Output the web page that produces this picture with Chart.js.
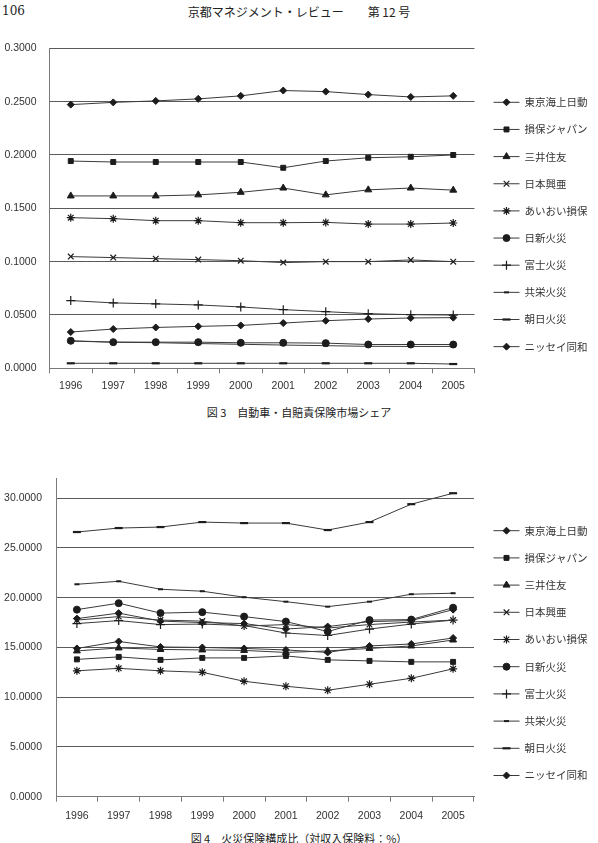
<!DOCTYPE html>
<html><head><meta charset="utf-8">
<script src="https://cdn.jsdelivr.net/npm/chart.js@4/dist/chart.umd.min.js"></script>
<style>
html,body{margin:0;padding:0;background:#fff}
body{width:598px;height:843px;position:relative;overflow:hidden;font-family:"Noto Sans CJK JP",sans-serif;color:#222}
.abs{position:absolute;white-space:pre}
#pgno{left:2px;top:4px;font-size:12px;font-family:"DejaVu Serif",serif}
#running{left:0;width:598px;text-align:center;top:3px;font-size:12px}
.cap{left:0;width:598px;text-align:center;font-size:11px}
#cap3{top:404px}
#cap4{top:830px}
.wrap{position:absolute;left:0;width:598px;height:360px}
#w1{top:40px}
#w2{top:470px}
</style>
</head><body>
<div id="pgno" class="abs">106</div>
<div id="running" class="abs">京都マネジメント・レビュー　　第 12 号</div>
<div class="wrap" id="w1"><canvas id="c1" width="598" height="360"></canvas></div>
<div id="cap3" class="abs cap">図 3　自動車・自賠責保険市場シェア</div>
<div class="wrap" id="w2"><canvas id="c2" width="598" height="360"></canvas></div>
<div id="cap4" class="abs cap">図 4　火災保険構成比（対収入保険料：%）</div>
<script>
// ---- categories / labels ----
const years = ['1996','1997','1998','1999','2000','2001','2002','2003','2004','2005'];
const companies = ['東京海上日動','損保ジャパン','三井住友','日本興亜','あいおい損保','日新火災','富士火災','共栄火災','朝日火災','ニッセイ同和'];
const yTicks3 = [0, 0.05, 0.10, 0.15, 0.20, 0.25, 0.30];
const yTicks4 = [0, 5, 10, 15, 20, 25, 30];

// ---- Figure 3: auto / compulsory auto market share ----
const auto_tokio    = [0.2472,0.2493,0.2507,0.2526,0.2554,0.2604,0.2594,0.2566,0.2544,0.2554];
const auto_sompo    = [0.1943,0.1934,0.1934,0.1934,0.1934,0.1880,0.1943,0.1974,0.1983,0.2000];
const auto_mitsui   = [0.1616,0.1616,0.1616,0.1626,0.1650,0.1690,0.1626,0.1673,0.1690,0.1670];
const auto_nipponkoa= [0.1047,0.1038,0.1028,0.1019,0.1009,0.0991,0.1000,0.1000,0.1016,0.1000];
const auto_aioi     = [0.1412,0.1403,0.1384,0.1384,0.1365,0.1365,0.1368,0.1352,0.1352,0.1362];
const auto_nisshin  = [0.0258,0.0245,0.0245,0.0245,0.0239,0.0239,0.0236,0.0223,0.0223,0.0223];
const auto_fuji     = [0.0635,0.0613,0.0604,0.0594,0.0575,0.0550,0.0531,0.0512,0.0503,0.0499];
const auto_kyoei    = [0.0255,0.0245,0.0240,0.0232,0.0225,0.0218,0.0212,0.0206,0.0205,0.0205];
const auto_asahi    = [0.0047,0.0047,0.0047,0.0047,0.0047,0.0047,0.0047,0.0047,0.0047,0.0040];
const auto_nissay   = [0.0340,0.0368,0.0383,0.0393,0.0402,0.0424,0.0446,0.0462,0.0472,0.0475];

// ---- Figure 4: fire insurance share of premium income (%) ----
const fire_tokio    = [14.90,15.60,15.05,15.00,14.90,14.75,14.50,15.15,15.35,15.95];
const fire_sompo    = [13.80,14.05,13.75,13.95,13.95,14.15,13.75,13.65,13.55,13.55];
const fire_mitsui   = [14.65,14.95,14.80,14.75,14.70,14.50,14.65,14.90,15.15,15.75];
const fire_nipponkoa= [17.75,18.10,17.75,17.65,17.15,17.30,16.95,17.30,17.55,17.75];
const fire_aioi     = [12.65,12.90,12.65,12.50,11.60,11.10,10.70,11.30,11.90,12.85];
const fire_nisshin  = [18.80,19.45,18.45,18.55,18.10,17.60,16.60,17.75,17.80,19.00];
const fire_fuji     = [17.40,17.70,17.30,17.35,17.20,16.45,16.20,16.85,17.35,17.75];
const fire_kyoei    = [21.35,21.65,20.85,20.65,20.05,19.60,19.10,19.60,20.35,20.45];
const fire_asahi    = [26.60,27.00,27.10,27.60,27.50,27.50,26.80,27.60,29.40,30.50];
const fire_nissay   = [17.90,18.45,17.65,17.50,17.40,16.85,17.10,17.60,17.70,18.80];

// marker styles per company (same order as companies)
const markerStyle  = ['rectRot','rect','triangle','crossRot','star','circle','cross','line','line','rectRot'];
const markerRadius = [3.5,3.5,4,4,4,3.5,4.5,2.5,4,3.5];
const markerWidth  = [1,1,1,1.2,1.2,1,1.2,2,2.2,1];

const AXIS_FONT = {family:'"Liberation Sans", Arial, sans-serif', size:10.5};
const TEXT_COLOR = '#333';

function makeDatasets(series){
  return series.map((vals,i)=>({
    label: companies[i],
    data: vals,
    borderColor:'#3a3a3a',
    borderWidth:1,
    pointStyle: markerStyle[i],
    pointRadius: markerRadius[i],
    pointHoverRadius: markerRadius[i],
    pointBorderWidth: markerWidth[i],
    pointBackgroundColor:'#1c1c1c',
    pointBorderColor:'#1c1c1c',
    tension:0,
    fill:false,
    clip:false
  }));
}

const sideLegend = {
  id:'sideLegend',
  afterDraw(chart, args, opts){
    const ctx = chart.ctx;
    ctx.save();
    chart.data.datasets.forEach((ds,i)=>{
      const y = opts.top + i*opts.step;
      ctx.strokeStyle = '#3a3a3a'; ctx.lineWidth = 1;
      ctx.beginPath(); ctx.moveTo(opts.x, y); ctx.lineTo(opts.x+opts.len, y); ctx.stroke();
      ctx.fillStyle = ds.pointBackgroundColor;
      ctx.strokeStyle = ds.pointBorderColor;
      ctx.lineWidth = ds.pointBorderWidth;
      Chart.helpers.drawPoint(ctx, {pointStyle: ds.pointStyle, radius: ds.pointRadius, borderWidth: ds.pointBorderWidth, rotation:0}, opts.x+opts.len/2, y);
      ctx.fillStyle = TEXT_COLOR;
      ctx.font = '10.5px "Noto Sans CJK JP", sans-serif';
      ctx.textBaseline = 'middle';
      ctx.textAlign = 'left';
      ctx.fillText(ds.label, opts.textX, y);
    });
    ctx.restore();
  }
};

function makeChart(id, series, cfg){
  return new Chart(document.getElementById(id), {
    type:'line',
    data:{labels: years, datasets: makeDatasets(series)},
    options:{
      responsive:false,
      animation:false,
      events:[],
      layout:{padding:{top:cfg.padTop, right:cfg.padRight, left:0, bottom:0}},
      plugins:{legend:{display:false}, tooltip:{enabled:false},
        sideLegend:{x:493.5, len:26, textX:524.5, top:cfg.legTop, step:cfg.legStep}},
      scales:{
        x:{
          type:'category', offset:true,
          grid:{offset:true, drawOnChartArea:false, drawTicks:true, tickLength:5, color:'#7a7a7a'},
          border:{color:'#7a7a7a', width:1},
          ticks:{font:AXIS_FONT, color:TEXT_COLOR, padding:cfg.xPad, maxRotation:0, autoSkip:false},
          afterFit(s){ s.height = cfg.xHeight; s.paddingLeft = 0; s.paddingRight = 0; }
        },
        y:{
          min:cfg.yTicks[0], max:cfg.yMax,
          ticks:{stepSize:cfg.yTicks[1]-cfg.yTicks[0], callback:v=>Number(v).toFixed(4), font:AXIS_FONT, color:TEXT_COLOR, padding:cfg.yPad},
          afterBuildTicks(s){ s.ticks = cfg.yTicks.map(v=>({value:v})); },
          grid:{color:'#5a5a5a', drawTicks:false, lineWidth:1},
          border:{color:'#7a7a7a', width:1},
          afterFit(s){ s.width = cfg.yWidth; s.paddingTop = 0; s.paddingBottom = 0; }
        }
      }
    },
    plugins:[sideLegend]
  });
}

makeChart('c1', [auto_tokio,auto_sompo,auto_mitsui,auto_nipponkoa,auto_aioi,auto_nisshin,auto_fuji,auto_kyoei,auto_asahi,auto_nissay], {
  padTop:8.3, padRight:123.5, xHeight:31.7, xPad:7, yWidth:49.5, yPad:13,
  yTicks:yTicks3, yMax:0.30, legTop:62.3, legStep:27.15
});
makeChart('c2', [fire_tokio,fire_sompo,fire_mitsui,fire_nipponkoa,fire_aioi,fire_nisshin,fire_fuji,fire_kyoei,fire_asahi,fire_nissay], {
  padTop:8.3, padRight:124, xHeight:33.3, xPad:8, yWidth:56, yPad:14,
  yTicks:yTicks4, yMax:32, legTop:60.7, legStep:27.2
});
</script>
</body></html>
